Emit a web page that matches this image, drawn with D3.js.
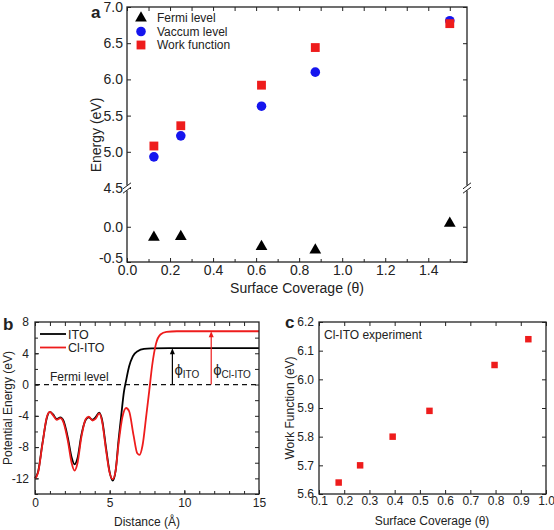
<!DOCTYPE html>
<html><head><meta charset="utf-8">
<script src="https://cdn.jsdelivr.net/npm/d3@7"></script>
<style>
body{margin:0;background:#fff}
text{font-family:Arial,"Liberation Sans",sans-serif;fill:#222}
</style></head>
<body><svg id="chart" width="554" height="530"></svg>
<script>
// ---------- Panel a data ----------
const coverageA = [0.125, 0.25, 0.625, 0.875, 1.5];
const fermiLevel = [-0.15, -0.14, -0.28, -0.33, 0.05];
const vacuumLevel = [4.93, 5.22, 5.63, 6.10, 6.81];
const workFunctionA = [5.08, 5.36, 5.92, 6.44, 6.77];
const upperTicksA = [4.5, 5.0, 5.5, 6.0, 6.5, 7.0];
const lowerTicksA = [-0.5, 0.0];
const xTicksA = [0.0, 0.2, 0.4, 0.6, 0.8, 1.0, 1.2, 1.4];

// ---------- Panel b data ----------
const distITO = [0, 0.2, 0.5, 0.8, 1.0, 1.2, 1.45, 1.7, 1.9, 2.2, 2.45, 2.65, 2.85, 3.1, 3.4, 3.6, 3.85, 4.05, 4.3, 4.5, 4.75, 5.0, 5.2, 5.4, 5.6, 5.8, 5.95, 6.1, 6.3, 6.55, 6.9, 7.3, 7.8, 9, 15];
const potITO = [-12.0, -11.2, -7.5, -4.2, -3.5, -3.8, -4.4, -4.2, -4.6, -6.8, -9.3, -10.2, -9.4, -6.5, -4.5, -4.2, -4.5, -4.2, -3.6, -4.6, -8.0, -11.2, -12.3, -11.0, -7.0, -3.5, -1.0, 0.5, 2.3, 3.6, 4.3, 4.55, 4.62, 4.65, 4.65];
const distClITO = [0, 0.2, 0.5, 0.8, 1.0, 1.2, 1.45, 1.7, 1.9, 2.2, 2.45, 2.65, 2.85, 3.1, 3.4, 3.6, 3.85, 4.05, 4.3, 4.5, 4.75, 5.0, 5.2, 5.4, 5.6, 5.85, 6.1, 6.3, 6.6, 6.85, 7.0, 7.2, 7.45, 7.65, 7.85, 8.1, 8.4, 8.8, 9.5, 15];
const potClITO = [-12.0, -11.3, -7.6, -4.1, -3.5, -3.9, -4.5, -4.3, -4.8, -7.2, -10.0, -11.0, -10.0, -6.8, -4.4, -4.1, -4.6, -4.4, -3.7, -4.8, -8.3, -11.3, -12.1, -11.0, -7.5, -4.2, -3.0, -3.4, -6.5, -8.8, -9.0, -7.8, -4.0, -0.8, 2.5, 5.2, 6.4, 6.75, 6.82, 6.82];
const arrowX = [9.2, 11.8];      // positions of the work-function arrows
const arrowTop = [4.65, 6.82];
const xTicksB = [0, 5, 10, 15];
const yTicksB = [-12, -8, -4, 0, 4, 8];

// ---------- Panel c data ----------
const coverageC = [0.178, 0.263, 0.392, 0.538, 0.796, 0.93];
const workFunctionC = [5.64, 5.70, 5.80, 5.89, 6.05, 6.14];
const xTicksC = [0.1, 0.2, 0.3, 0.4, 0.5, 0.6, 0.7, 0.8, 0.9, 1.0];
const yTicksC = [5.6, 5.7, 5.8, 5.9, 6.0, 6.1, 6.2];

const svg = d3.select("#chart");
const RED = "#ee1c1c", BLUE = "#1515ee";
const sym = (type, size) => d3.symbol().type(type).size(size)();

function styleAxis(g, fs) {
  g.select(".domain").remove();
  g.selectAll(".tick line").attr("stroke", "#222").attr("stroke-width", 1);
  g.selectAll(".tick text").attr("font-size", fs).attr("fill", "#222");
}

// ================= Panel a =================
{
  const L = 127, R = 467, T = 7, B = 262, BRK = 188;
  const x = d3.scaleLinear([0, 1.58], [L, R]);
  const yU = d3.scaleLinear([4.5, 7.0], [BRK, T]);
  const yL = d3.scaleLinear([-0.5, 0.55], [B, BRK]);
  const g = svg.append("g");
  const f1 = d => d.toFixed(1).replace("\u2212", "-");

  // ticks
  g.append("g").attr("transform", `translate(${L},0)`)
    .call(d3.axisLeft(yU).tickValues(upperTicksA).tickSize(-4).tickPadding(4).tickFormat(f1))
    .call(a => styleAxis(a, 14));
  g.append("g").attr("transform", `translate(${L},0)`)
    .call(d3.axisLeft(yL).tickValues(lowerTicksA).tickSize(-4).tickPadding(4).tickFormat(f1))
    .call(a => styleAxis(a, 14))
    .call(a => a.selectAll(".tick text").filter(d => d < 0).attr("y", -4));
  g.append("g").attr("transform", `translate(${R},0)`)
    .call(d3.axisRight(yU).tickValues(upperTicksA).tickSize(-4).tickFormat(""))
    .call(a => styleAxis(a, 14));
  g.append("g").attr("transform", `translate(${R},0)`)
    .call(d3.axisRight(yL).tickValues(lowerTicksA).tickSize(-4).tickFormat(""))
    .call(a => styleAxis(a, 14));
  g.append("g").attr("transform", `translate(0,${B})`)
    .call(d3.axisBottom(x).tickValues(xTicksA).tickSize(-4).tickPadding(3).tickFormat(f1))
    .call(a => styleAxis(a, 14));
  g.append("g").attr("transform", `translate(0,${B})`)
    .call(d3.axisBottom(x).tickValues(d3.range(0.1, 1.58, 0.2)).tickSize(-3).tickFormat(""))
    .call(a => styleAxis(a, 14));
  g.append("g").attr("transform", `translate(0,${T})`)
    .call(d3.axisTop(x).tickValues(d3.range(0, 1.58, 0.1)).tickSize(-4).tickFormat(""))
    .call(a => styleAxis(a, 14));

  g.append("rect").attr("x", L).attr("y", T).attr("width", R - L).attr("height", B - T)
    .attr("fill", "none").attr("stroke", "#222").attr("stroke-width", 1.3);

  // axis breaks
  [L, R].forEach(px => {
    g.append("rect").attr("x", px - 3).attr("y", BRK - 2.5).attr("width", 6).attr("height", 5).attr("fill", "#fff");
    [-2.2, 2.2].forEach(o => g.append("line")
      .attr("x1", px - 4).attr("y1", BRK + o + 3).attr("x2", px + 4).attr("y2", BRK + o - 3)
      .attr("stroke", "#222").attr("stroke-width", 1));
  });

  // marks
  g.selectAll(".vac").data(coverageA).join("path")
    .attr("d", sym(d3.symbolCircle, 72))
    .attr("transform", (d, i) => `translate(${x(d)},${yU(vacuumLevel[i])})`).attr("fill", BLUE);
  g.selectAll(".wf").data(coverageA).join("path").attr("class", "wf")
    .attr("d", sym(d3.symbolSquare, 78))
    .attr("transform", (d, i) => `translate(${x(d)},${yU(workFunctionA[i])})`).attr("fill", RED);
  g.selectAll(".fer").data(coverageA).join("path").attr("class", "fer")
    .attr("d", sym(d3.symbolTriangle, 60))
    .attr("transform", (d, i) => `translate(${x(d)},${yL(fermiLevel[i])})`).attr("fill", "#000");

  // legend
  const leg = [["Fermi level", d3.symbolTriangle, 60, "#000"], ["Vaccum level", d3.symbolCircle, 72, BLUE], ["Work function", d3.symbolSquare, 78, RED]];
  leg.forEach((l, i) => {
    const yy = 18 + i * 13.5;
    g.append("path").attr("d", sym(l[1], l[2])).attr("transform", `translate(141,${yy})`).attr("fill", l[3]);
    g.append("text").attr("x", 157).attr("y", yy + 4).attr("font-size", 12).text(l[0]);
  });

  g.append("text").attr("x", 91).attr("y", 18).attr("font-size", 17).attr("font-weight", "bold").text("a");
  g.append("text").attr("transform", "translate(101,135) rotate(-90)").attr("text-anchor", "middle")
    .attr("font-size", 14).text("Energy (eV)");
  g.append("text").attr("x", 297).attr("y", 293).attr("text-anchor", "middle").attr("font-size", 14).text("Surface Coverage (\u03b8)");
}

// ================= Panel b =================
{
  const L = 35, R = 259, T = 322, B = 494;
  const x = d3.scaleLinear([0, 15], [L, R]);
  const y = d3.scaleLinear([-14, 8], [B, T]);
  const g = svg.append("g");

  g.append("g").attr("transform", `translate(${L},0)`)
    .call(d3.axisLeft(y).tickValues(yTicksB).tickSize(-4).tickPadding(6).tickFormat(d => String(d)))
    .call(a => styleAxis(a, 12));
  g.append("g").attr("transform", `translate(${L},0)`)
    .call(d3.axisLeft(y).tickValues(d3.range(-14, 8, 2)).tickSize(-3).tickFormat(""))
    .call(a => styleAxis(a, 12));
  g.append("g").attr("transform", `translate(${R},0)`)
    .call(d3.axisRight(y).tickValues(d3.range(-14, 8, 2)).tickSize(-4).tickFormat(""))
    .call(a => styleAxis(a, 12));
  g.append("g").attr("transform", `translate(0,${B})`)
    .call(d3.axisBottom(x).tickValues(xTicksB).tickSize(-4).tickPadding(4).tickFormat(d => String(d)))
    .call(a => styleAxis(a, 12));
  g.append("g").attr("transform", `translate(0,${B})`)
    .call(d3.axisBottom(x).tickValues(d3.range(0, 15, 1)).tickSize(-3).tickFormat(""))
    .call(a => styleAxis(a, 12));
  g.append("g").attr("transform", `translate(0,${T})`)
    .call(d3.axisTop(x).tickValues(d3.range(0, 15, 1)).tickSize(-4).tickFormat(""))
    .call(a => styleAxis(a, 12));

  // Fermi level dashed line
  g.append("line").attr("x1", L).attr("x2", R).attr("y1", y(0)).attr("y2", y(0))
    .attr("stroke", "#111").attr("stroke-width", 1.2).attr("stroke-dasharray", "5,4");

  const line = d3.line().x(d => x(d[0])).y(d => y(d[1])).curve(d3.curveMonotoneX);
  g.append("path").datum(distITO.map((d, i) => [d, potITO[i]])).attr("d", line)
    .attr("fill", "none").attr("stroke", "#000").attr("stroke-width", 1.8);
  g.append("path").datum(distClITO.map((d, i) => [d, potClITO[i]])).attr("d", line)
    .attr("fill", "none").attr("stroke", RED).attr("stroke-width", 1.8);

  // arrows
  const cols = ["#000", RED];
  arrowX.forEach((ax, i) => {
    g.append("line").attr("x1", x(ax)).attr("x2", x(ax)).attr("y1", y(0)).attr("y2", y(arrowTop[i]) + 4)
      .attr("stroke", cols[i]).attr("stroke-width", 1.2);
    g.append("path").attr("d", `M${x(ax)},${y(arrowTop[i])} l-2.5,6 l5,0 z`).attr("fill", cols[i]);
  });

  g.append("rect").attr("x", L).attr("y", T).attr("width", R - L).attr("height", B - T)
    .attr("fill", "none").attr("stroke", "#222").attr("stroke-width", 1.3);

  // phi labels
  const phi1 = g.append("text").attr("x", x(arrowX[0]) + 2).attr("y", 375).attr("font-size", 15);
  phi1.append("tspan").text("\u03d5");
  phi1.append("tspan").attr("font-size", 10).attr("dy", 3).text("ITO");
  const phi2 = g.append("text").attr("x", x(arrowX[1]) + 2).attr("y", 375).attr("font-size", 15);
  phi2.append("tspan").text("\u03d5");
  phi2.append("tspan").attr("font-size", 10).attr("dy", 3).text("Cl-ITO");

  g.append("text").attr("x", 50).attr("y", 381).attr("font-size", 12).text("Fermi level");

  // legend
  [["ITO", "#000"], ["Cl-ITO", RED]].forEach((l, i) => {
    const yy = 334 + i * 13.5;
    g.append("line").attr("x1", 40).attr("x2", 66).attr("y1", yy).attr("y2", yy).attr("stroke", l[1]).attr("stroke-width", 1.8);
    g.append("text").attr("x", 68).attr("y", yy + 4.5).attr("font-size", 12.5).text(l[0]);
  });

  g.append("text").attr("x", 3).attr("y", 330).attr("font-size", 17).attr("font-weight", "bold").text("b");
  g.append("text").attr("transform", "translate(12,408) rotate(-90)").attr("text-anchor", "middle")
    .attr("font-size", 12).text("Potential Energy (eV)");
  g.append("text").attr("x", 147).attr("y", 526).attr("text-anchor", "middle").attr("font-size", 12).text("Distance (\u00c5)");
}

// ================= Panel c =================
{
  const L = 319, R = 546, T = 322, B = 494;
  const x = d3.scaleLinear([0.1, 1.0], [L, R]);
  const y = d3.scaleLinear([5.6, 6.2], [B, T]);
  const g = svg.append("g");
  const f1 = d => d.toFixed(1);

  g.append("g").attr("transform", `translate(${L},0)`)
    .call(d3.axisLeft(y).tickValues(yTicksC).tickSize(-4).tickPadding(5).tickFormat(f1))
    .call(a => styleAxis(a, 12));
  g.append("g").attr("transform", `translate(${R},0)`)
    .call(d3.axisRight(y).tickValues(yTicksC).tickSize(-4).tickFormat(""))
    .call(a => styleAxis(a, 12));
  g.append("g").attr("transform", `translate(0,${B})`)
    .call(d3.axisBottom(x).tickValues(xTicksC).tickSize(-4).tickPadding(2).tickFormat(f1))
    .call(a => styleAxis(a, 12));
  g.append("g").attr("transform", `translate(0,${T})`)
    .call(d3.axisTop(x).tickValues(xTicksC).tickSize(-4).tickFormat(""))
    .call(a => styleAxis(a, 12));

  g.append("rect").attr("x", L).attr("y", T).attr("width", R - L).attr("height", B - T)
    .attr("fill", "none").attr("stroke", "#222").attr("stroke-width", 1.3);

  g.selectAll(".wfc").data(coverageC).join("path").attr("class", "wfc")
    .attr("d", sym(d3.symbolSquare, 42))
    .attr("transform", (d, i) => `translate(${x(d)},${y(workFunctionC[i])})`).attr("fill", RED);

  g.append("text").attr("x", 324).attr("y", 339).attr("font-size", 12).text("Cl-ITO experiment");
  g.append("text").attr("x", 285).attr("y", 328).attr("font-size", 17).attr("font-weight", "bold").text("c");
  g.append("text").attr("transform", "translate(294,408) rotate(-90)").attr("text-anchor", "middle")
    .attr("font-size", 12).text("Work Function (eV)");
  g.append("text").attr("x", 432).attr("y", 525).attr("text-anchor", "middle").attr("font-size", 12).text("Surface Coverage (\u03b8)");
}
</script></body></html>
